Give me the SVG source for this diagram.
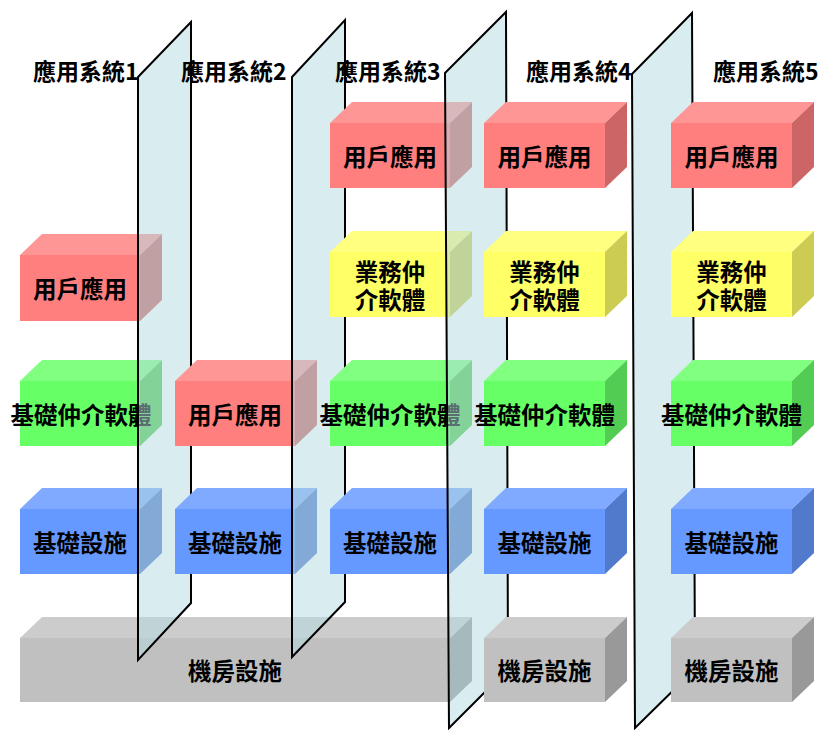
<svg xmlns="http://www.w3.org/2000/svg" width="823" height="730" viewBox="0 0 823 730">
<style>
text{font-family:"Noto Sans CJK TC","Noto Sans CJK SC",sans-serif;font-weight:700;fill:#000;dominant-baseline:central}
.t{font-size:23px}
.l{font-size:23.5px;text-anchor:middle}
.rf{fill:#FF7F7F}.rt{fill:#FF9696}.rs{fill:#CC6666}
.yf{fill:#FFFF66}.yt{fill:#FFFF80}.ys{fill:#CCCC52}
.gf{fill:#66FF66}.gt{fill:#80FF80}.gs{fill:#52CC52}
.bf{fill:#6699FF}.bt{fill:#80AAFF}.bs{fill:#527ACC}
.af{fill:#C0C0C0}.at{fill:#CCCCCC}.as{fill:#999999}
.panel{fill:#B4DAE0;fill-opacity:0.5;stroke:#000;stroke-width:2;stroke-linejoin:miter}
</style>

<!-- big shared machine-room box (systems 1-3) -->
<g id="room-123">
<polygon class="at" points="20,638 42,617 472,617 450,638"/>
<rect class="af" x="20" y="638" width="430" height="64"/>
<polygon class="as" points="450,638 472,617 472,681 450,702"/>
<text class="l" x="235" y="670">機房設施</text>
</g>

<!-- column 1 -->
<g id="app1-user">
<polygon class="rt" points="20,255 42,234 162,234 140,255"/>
<rect class="rf" x="20" y="255" width="120" height="66"/>
<polygon class="rs" points="140,255 162,234 162,300 140,321"/>
<text class="l" x="80" y="288">用戶應用</text>
</g>
<g id="app1-basemw">
<polygon class="gt" points="20,381 42,360 162,360 140,381"/>
<rect class="gf" x="20" y="381" width="120" height="65"/>
<polygon class="gs" points="140,381 162,360 162,425 140,446"/>
<text class="l" x="81" y="413.5">基礎仲介軟體</text>
</g>
<g id="app1-infra">
<polygon class="bt" points="20,509 42,488 162,488 140,509"/>
<rect class="bf" x="20" y="509" width="120" height="65"/>
<polygon class="bs" points="140,509 162,488 162,553 140,574"/>
<text class="l" x="80" y="541.5">基礎設施</text>
</g>

<g id="panel1"><polygon class="panel" points="138,77 191,22 191,603 138,660"/></g>

<!-- column 2 -->
<g id="app2-user">
<polygon class="rt" points="175,381 197,360 317,360 295,381"/>
<rect class="rf" x="175" y="381" width="120" height="65"/>
<polygon class="rs" points="295,381 317,360 317,425 295,446"/>
<text class="l" x="235" y="413.5">用戶應用</text>
</g>
<g id="app2-infra">
<polygon class="bt" points="175,509 197,488 317,488 295,509"/>
<rect class="bf" x="175" y="509" width="120" height="65"/>
<polygon class="bs" points="295,509 317,488 317,553 295,574"/>
<text class="l" x="235" y="541.5">基礎設施</text>
</g>

<g id="panel2"><polygon class="panel" points="292,77 345,20 345,602 292,657"/></g>

<!-- column 3 -->
<g id="app3-user">
<polygon class="rt" points="330,123 352,102 472,102 450,123"/>
<rect class="rf" x="330" y="123" width="120" height="65"/>
<polygon class="rs" points="450,123 472,102 472,167 450,188"/>
<text class="l" x="390" y="155.5">用戶應用</text>
</g>
<g id="app3-bizmw">
<polygon class="yt" points="330,252 352,231 472,231 450,252"/>
<rect class="yf" x="330" y="252" width="120" height="65"/>
<polygon class="ys" points="450,252 472,231 472,296 450,317"/>
<text class="l"><tspan x="390" y="271">業務仲</tspan><tspan x="390" y="299">介軟體</tspan></text>
</g>
<g id="app3-basemw">
<polygon class="gt" points="330,381 352,360 472,360 450,381"/>
<rect class="gf" x="330" y="381" width="120" height="65"/>
<polygon class="gs" points="450,381 472,360 472,425 450,446"/>
<text class="l" x="390" y="413.5">基礎仲介軟體</text>
</g>
<g id="app3-infra">
<polygon class="bt" points="330,509 352,488 472,488 450,509"/>
<rect class="bf" x="330" y="509" width="120" height="65"/>
<polygon class="bs" points="450,509 472,488 472,553 450,574"/>
<text class="l" x="390" y="541.5">基礎設施</text>
</g>

<g id="panel3"><polygon class="panel" points="445,73 506,12 508,669 449,728"/></g>

<!-- column 4 -->
<g id="app4-user">
<polygon class="rt" points="484,123 506,102 627,102 605,123"/>
<rect class="rf" x="484" y="123" width="121" height="65"/>
<polygon class="rs" points="605,123 627,102 627,167 605,188"/>
<text class="l" x="544.5" y="155.5">用戶應用</text>
</g>
<g id="app4-bizmw">
<polygon class="yt" points="484,252 506,231 627,231 605,252"/>
<rect class="yf" x="484" y="252" width="121" height="65"/>
<polygon class="ys" points="605,252 627,231 627,296 605,317"/>
<text class="l"><tspan x="544.5" y="271">業務仲</tspan><tspan x="544.5" y="299">介軟體</tspan></text>
</g>
<g id="app4-basemw">
<polygon class="gt" points="484,381 506,360 627,360 605,381"/>
<rect class="gf" x="484" y="381" width="121" height="65"/>
<polygon class="gs" points="605,381 627,360 627,425 605,446"/>
<text class="l" x="544.5" y="413.5">基礎仲介軟體</text>
</g>
<g id="app4-infra">
<polygon class="bt" points="484,509 506,488 627,488 605,509"/>
<rect class="bf" x="484" y="509" width="121" height="65"/>
<polygon class="bs" points="605,509 627,488 627,553 605,574"/>
<text class="l" x="544.5" y="541.5">基礎設施</text>
</g>
<g id="app4-room">
<polygon class="at" points="484,638 506,617 627,617 605,638"/>
<rect class="af" x="484" y="638" width="121" height="64"/>
<polygon class="as" points="605,638 627,617 627,681 605,702"/>
<text class="l" x="544.5" y="670">機房設施</text>
</g>

<g id="panel4"><polygon class="panel" points="632,74 692,13 695,669 635,728"/></g>

<!-- column 5 -->
<g id="app5-user">
<polygon class="rt" points="671,123 693,102 814,102 792,123"/>
<rect class="rf" x="671" y="123" width="121" height="65"/>
<polygon class="rs" points="792,123 814,102 814,167 792,188"/>
<text class="l" x="731.5" y="155.5">用戶應用</text>
</g>
<g id="app5-bizmw">
<polygon class="yt" points="671,252 693,231 814,231 792,252"/>
<rect class="yf" x="671" y="252" width="121" height="65"/>
<polygon class="ys" points="792,252 814,231 814,296 792,317"/>
<text class="l"><tspan x="731.5" y="271">業務仲</tspan><tspan x="731.5" y="299">介軟體</tspan></text>
</g>
<g id="app5-basemw">
<polygon class="gt" points="671,381 693,360 814,360 792,381"/>
<rect class="gf" x="671" y="381" width="121" height="65"/>
<polygon class="gs" points="792,381 814,360 814,425 792,446"/>
<text class="l" x="731.5" y="413.5">基礎仲介軟體</text>
</g>
<g id="app5-infra">
<polygon class="bt" points="671,509 693,488 814,488 792,509"/>
<rect class="bf" x="671" y="509" width="121" height="65"/>
<polygon class="bs" points="792,509 814,488 814,553 792,574"/>
<text class="l" x="731.5" y="541.5">基礎設施</text>
</g>
<g id="app5-room">
<polygon class="at" points="671,638 693,617 814,617 792,638"/>
<rect class="af" x="671" y="638" width="121" height="64"/>
<polygon class="as" points="792,638 814,617 814,681 792,702"/>
<text class="l" x="731.5" y="670">機房設施</text>
</g>

<!-- titles -->
<g id="titles">
<text class="t" x="33" y="70">應用系統1</text>
<text class="t" x="181" y="70">應用系統2</text>
<text class="t" x="335" y="70">應用系統3</text>
<text class="t" x="526" y="70">應用系統4</text>
<text class="t" x="713" y="70">應用系統5</text>
</g>
<g id="connectors"/>
</svg>
